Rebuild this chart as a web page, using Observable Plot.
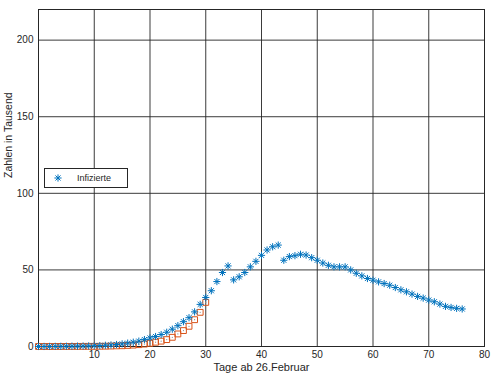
<!DOCTYPE html>
<html>
<head>
<meta charset="utf-8">
<script src="https://cdn.jsdelivr.net/npm/d3@7"></script>
<script src="https://cdn.jsdelivr.net/npm/@observablehq/plot@0.6"></script>
<style>
  html, body { margin: 0; padding: 0; background: #fff; }
  #wrap { position: relative; width: 500px; height: 375px; font-family: "Liberation Sans", Arial, sans-serif; }
  #legend { position: absolute; left: 44px; top: 168px; width: 82px; height: 18px; border: 1px solid #262626; background: #fff; box-sizing: content-box; }
  #legend svg { position: absolute; left: 8px; top: 4px; }
  #legend span { position: absolute; left: 32px; top: 4px; font-size: 9px; color: #262626; }
</style>
</head>
<body>
<div id="wrap"></div>
<script>
// Infizierte (in Tausend), Tag 0 .. 76 ab 26. Februar
const infected = [
  0.02, 0.03, 0.05, 0.08, 0.1, 0.15, 0.2, 0.25, 0.3, 0.4,
  0.5, 0.6, 0.8, 1.0, 1.3, 1.7, 2.2, 2.8, 3.5, 4.5,
  5.6, 6.5, 7.8, 9.3, 11.3, 13.6, 16.2, 18.8, 22.6, 27.5,
  32, 36.4, 42.4, 48.3, 52.6, 43.5, 45.5, 48.3, 52, 55.6,
  59.5, 63, 65.1, 66.2, 56.3, 58.7, 59.3, 60.2, 59.7, 58,
  56.3, 54.5, 53, 52, 52, 52, 50, 47.8, 46.1, 44.4,
  43.3, 42.2, 41.1, 40, 38.5, 37, 35.7, 34.2, 32.7, 31.6,
  30.3, 29.2, 27.7, 26.2, 25.5, 24.9, 24.5
];
// zweite Reihe (Quadrate), Tag 0 .. 30
const second = [
  0.0, 0.0, 0.0, 0.02, 0.03, 0.04, 0.05, 0.06, 0.08, 0.1,
  0.1, 0.15, 0.2, 0.3, 0.4, 0.5, 0.7, 0.9, 1.2, 1.6,
  2.1, 2.8, 3.5, 4.5, 6.0, 8.2, 10.4, 13.2, 17.5, 22.3,
  28.8
];
const xTicks = [10, 20, 30, 40, 50, 60, 70, 80];
const yTicks = [0, 50, 100, 150, 200];
const xLabel = "Tage ab 26.Februar";
const yLabel = "Zahlen in Tausend";
const legendLabel = "Infizierte";

const infectedData = infected.map((v, i) => ({day: i, value: v}));
const secondData = second.map((v, i) => ({day: i, value: v}));

const blue = "#0072BD";
const orange = "#D95319";
const ink = "#262626";

const asterisk = {
  draw(ctx, size) {
    const r = Math.sqrt(size / Math.PI);
    const d = r * Math.SQRT1_2;
    ctx.moveTo(-r, 0); ctx.lineTo(r, 0);
    ctx.moveTo(0, -r); ctx.lineTo(0, r);
    ctx.moveTo(-d, -d); ctx.lineTo(d, d);
    ctx.moveTo(-d, d); ctx.lineTo(d, -d);
  }
};

const chart = Plot.plot({
  width: 500,
  height: 375,
  marginLeft: 38,
  marginRight: 16,
  marginTop: 9,
  marginBottom: 29,
  style: {fontFamily: "Liberation Sans, Arial, sans-serif", fontSize: "10px", color: ink, background: "#fff"},
  x: {domain: [0, 80]},
  y: {domain: [0, 220]},
  marks: [
    Plot.gridX(xTicks, {stroke: ink, strokeOpacity: 0.9}),
    Plot.gridY(yTicks, {stroke: ink, strokeOpacity: 0.9}),
    Plot.frame({stroke: ink}),
    Plot.axisX({ticks: xTicks, tickSize: 0, tickPadding: 4, label: null, fill: ink}),
    Plot.axisY({ticks: yTicks, tickSize: 0, tickPadding: 5, label: null, fill: ink}),
    Plot.text([xLabel], {frameAnchor: "bottom", dy: 24, fontSize: 11, fill: ink}),
    Plot.text([yLabel], {frameAnchor: "left", dx: -30, rotate: -90, fontSize: 10.5, fill: ink}),
    Plot.dot(secondData, {x: "day", y: "value", symbol: "square", r: 3.3, stroke: orange, strokeWidth: 1, fill: "none"}),
    Plot.dot(secondData, {x: "day", y: "value", r: 0.6, fill: "#8a8a8a"}),
    Plot.dot(infectedData, {x: "day", y: "value", symbol: asterisk, r: 3.6, stroke: blue, strokeWidth: 1, fill: "none"})
  ]
});

const wrap = document.getElementById("wrap");
wrap.appendChild(chart);

const legend = document.createElement("div");
legend.id = "legend";
const ns = "http://www.w3.org/2000/svg";
const ls = document.createElementNS(ns, "svg");
ls.setAttribute("width", 10);
ls.setAttribute("height", 10);
const p = document.createElementNS(ns, "path");
const path = d3.path();
asterisk.draw(path, Math.PI * 3.6 * 3.6);
p.setAttribute("d", path.toString());
p.setAttribute("transform", "translate(5,5)");
p.setAttribute("stroke", blue);
p.setAttribute("fill", "none");
ls.appendChild(p);
legend.appendChild(ls);
const lt = document.createElement("span");
lt.textContent = legendLabel;
legend.appendChild(lt);
wrap.appendChild(legend);
</script>
</body>
</html>
